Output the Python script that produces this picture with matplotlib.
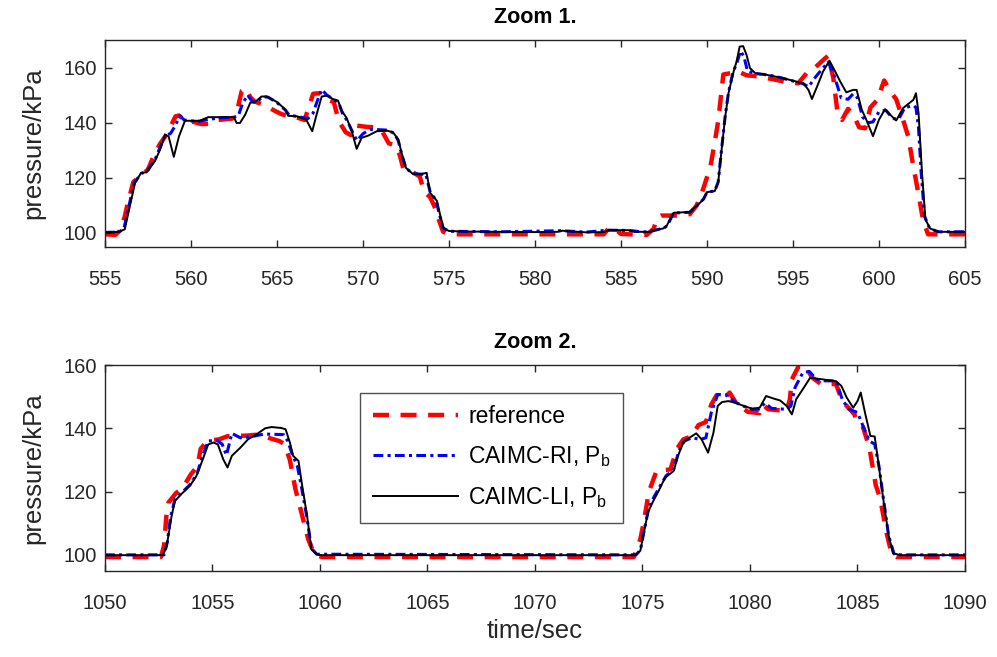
import matplotlib
matplotlib.use("Agg")
import matplotlib.pyplot as plt

plt.rcParams['font.family'] = ['Liberation Sans', 'DejaVu Sans']
plt.rcParams['mathtext.fontset'] = 'custom'
plt.rcParams['mathtext.rm'] = 'Liberation Sans'

# ---- Zoom 1 data (time/sec, pressure/kPa) ----
t_ref_1 = [555, 555.6, 555.9, 556.15, 556.35, 556.65, 557.0, 557.5, 557.9, 558.2, 558.5, 558.8, 559.1, 559.3,
           559.65, 560.2, 560.6, 561.2, 561.6, 562.4, 562.65, 562.95, 563.2, 563.45, 563.7, 564.3, 564.9, 565.3,
           566.1, 566.6, 566.9, 567.1, 567.5, 567.9, 568.3, 568.6, 569.0, 569.3, 569.55, 570.2, 570.8, 571.1,
           571.5, 571.9, 572.15, 572.35, 572.9, 573.3, 573.55, 573.9, 574.2, 574.4, 574.65, 575.0, 584.0, 584.3,
           584.6, 585.0, 586.5, 586.9, 587.1, 587.35, 588.3, 589.0, 589.4, 589.7, 590.2, 590.45, 590.65, 590.8,
           590.95, 591.4, 591.8, 592.3, 593.0, 593.8, 594.6, 595.3, 595.8, 596.2, 596.8, 597.05, 597.35, 597.6,
           597.85, 598.2, 598.5, 598.85, 599.2, 599.5, 599.9, 600.3, 600.7, 601.0, 601.4, 601.7, 602.0, 602.3,
           602.55, 602.85, 605]
p_ref_1 = [99.5, 99.3, 101, 106, 111.5, 118.5, 120.3, 123, 129, 132.3, 135, 138.5, 142.3, 142.6,
           140.8, 140.2, 139.5, 139.6, 141, 141.5, 143.5, 151.5, 152.5, 149.2, 147.7, 146.3, 144.2, 143,
           142, 141, 146.5, 150.5, 150.7, 148.5, 147.5, 140.5, 136.5, 135.5, 139, 138.5, 138.3, 137,
           132.5, 131.8, 128, 123.2, 122, 120.5, 115, 113, 109, 105, 100.5, 99.5, 99.5, 101.8,
           101.8, 99.6, 99.3, 101.5, 105.5, 106.3, 106.3, 106.8, 110, 114.5, 124, 133, 140.5, 149,
           157.5, 158, 158.6, 157.2, 156.8, 155.8, 154.8, 154.3, 158, 159.5, 163, 164.3, 156, 143,
           141, 145, 143, 138.3, 138, 145.5, 148.3, 155.3, 151, 148.5, 141, 135, 124, 114,
           105, 99.5, 99.5]

t_ri_1 = [555, 555.8, 556.1, 556.4, 556.7, 557.1, 557.45, 557.9, 558.2, 558.5, 558.8, 559.05, 559.35, 559.6,
          560.0, 560.5, 561.0, 561.8, 562.5, 562.75, 563.0, 563.3, 563.55, 563.8, 564.2, 564.5, 565.0, 565.5,
          565.7, 566.2, 566.8, 567.1, 567.35, 567.6, 567.9, 568.3, 568.6, 568.8, 569.1, 569.4, 569.65, 570.0,
          570.4, 570.8, 571.4, 571.8, 572.05, 572.25, 572.5, 572.9, 573.4, 573.65, 573.9, 574.25, 574.45, 574.65,
          575.0, 578.0, 581.5, 583.0, 584.2, 585.5, 586.3, 587.0, 587.5, 587.7, 588.05, 589.0, 589.4, 589.8,
          590.0, 590.45, 590.65, 590.85, 591.05, 591.25, 591.5, 591.75, 591.95, 592.15, 592.35, 592.8, 593.3, 593.8,
          594.3, 594.7, 595.2, 595.6, 595.9, 596.3, 596.7, 597.05, 597.4, 597.8, 598.2, 598.5, 598.75, 599.05,
          599.4, 599.65, 600.0, 600.4, 600.8, 601.15, 601.5, 602.0, 602.15, 602.3, 602.45, 602.65, 602.95, 603.45,
          605]
p_ri_1 = [100.2, 100.3, 101.5, 110, 118.2, 121.5, 122.5, 126.5, 131, 135.5, 136, 138.5, 142.5, 141,
          140.6, 140.5, 141.2, 141.8, 142, 142.5, 147, 150, 147.8, 147.5, 149.5, 149.2, 147.3, 144.5,
          142.8, 142.2, 141.5, 143.5, 148, 152, 150, 148.5, 147, 143.5, 140.5, 136.5, 133.5, 136,
          137.5, 137.5, 137.3, 136.2, 133.5, 128.5, 123.5, 121.5, 121.3, 121.3, 115, 111.8, 106.5, 101.8,
          100.6, 100.4, 100.8, 100.3, 101, 100.9, 100.3, 101, 101.8, 102.7, 107.2, 107.5, 109.8, 112.3,
          114.8, 115.2, 118.5, 130.5, 142, 151, 158, 162, 166, 164, 158.8, 157.8, 157.5, 157,
          156.3, 155.6, 154.8, 154.1, 153, 156.5, 159.5, 162, 157, 149, 148.5, 150.5, 149, 142,
          140, 140.3, 144, 144.5, 141.5, 141.3, 145.5, 146.2, 145.5, 138, 122, 106, 101.6, 100.4,
          100.4]

t_li_1 = [555, 555.8, 556.15, 556.45, 556.75, 557.1, 557.4, 557.9, 558.2, 558.5, 558.7, 559.0, 559.3, 559.65,
          560.5, 561.0, 562.5, 562.65, 562.85, 563.15, 563.45, 563.7, 564.1, 564.4, 565.0, 565.5, 565.65, 566.15,
          566.7, 567.05, 567.3, 567.6, 567.9, 568.25, 568.55, 568.75, 569.05, 569.35, 569.63, 569.92, 570.3, 570.8,
          571.4, 571.75, 572.05, 572.25, 572.5, 572.9, 573.4, 573.7, 573.9, 574.3, 574.5, 574.7, 575.0, 576.0,
          578.0, 580.0, 581.3, 581.6, 582.0, 583.0, 584.0, 584.3, 585.4, 585.8, 586.7, 587.15, 587.45, 587.65,
          588.05, 589.0, 589.4, 589.8, 590.0, 590.45, 590.65, 590.85, 591.05, 591.25, 591.55, 591.72, 591.9, 592.1,
          592.3, 592.5, 592.8, 593.3, 593.75, 594.25, 594.65, 595.2, 595.6, 595.9, 596.1, 596.4, 596.75, 597.12,
          597.45, 597.75, 598.1, 598.5, 598.7, 599.0, 599.3, 599.65, 600.0, 600.35, 600.65, 601.0, 601.4, 602.0,
          602.15, 602.3, 602.5, 602.7, 602.97, 603.45, 605]
p_li_1 = [100.1, 100.4, 101.3, 109.8, 118.2, 121.8, 122, 126, 130.2, 135.7, 135, 127.6, 135, 140.7,
          140.7, 142, 142, 139.9, 139.9, 142.9, 147.3, 147.3, 149.5, 149.5, 147.5, 144.7, 142.5, 142.3,
          141.1, 136.9, 142.9, 149.5, 149.8, 148.6, 148, 144.5, 141.7, 136.9, 130.5, 134.5, 135.3, 136.9,
          137.1, 136.5, 133.9, 129, 123.6, 121.4, 121.4, 121.8, 114.6, 111.6, 106.1, 101.6, 100.7, 100.5,
          100.4, 100.3, 100.4, 100.8, 100.6, 100.2, 100.3, 101, 101, 100.4, 100.4, 101.3, 101.6, 102.5,
          107.3, 107.6, 109.8, 112.2, 114.8, 115.2, 118.2, 130.2, 141.7, 150.7, 158.6, 162.2, 167.6, 167.8,
          164.6, 159.8, 158, 157.6, 157, 156.4, 155.8, 154.9, 154.3, 151.9, 148.6, 153.1, 158.6, 162.5,
          158.6, 154.9, 151, 151.9, 151.9, 144.7, 140.5, 135.1, 141.1, 144.9, 142.9, 140.8, 145.3, 148.3,
          150.7, 143.5, 121.8, 104.9, 101.6, 100.4, 100.4]

# ---- Zoom 2 data ----
t_ref_2 = [1050, 1052.6, 1052.75, 1052.85, 1052.95, 1053.3, 1053.6, 1054.0, 1054.3, 1054.45, 1054.75, 1055.3,
           1055.7, 1056.6, 1057.1, 1057.6, 1058.1, 1058.35, 1058.6, 1058.85, 1059.15, 1059.45, 1059.75, 1060.1,
           1074.6, 1074.9, 1075.05, 1075.3, 1075.65, 1076.3, 1076.6, 1076.9, 1077.3, 1077.6, 1077.95, 1078.2,
           1078.45, 1078.75, 1079.05, 1079.35, 1079.9, 1080.45, 1080.6, 1080.85, 1081.7, 1081.85, 1081.95, 1082.25,
           1082.6, 1082.9, 1083.3, 1084.0, 1084.3, 1084.65, 1084.85, 1085.0, 1085.25, 1085.55, 1085.85, 1086.05,
           1086.35, 1086.6, 1086.8, 1090]
p_ref_2 = [99.3, 99.3, 103, 112, 116.5, 119.5, 121, 125.5, 128, 133.5, 136, 136.5,
           137.5, 137.7, 138, 137, 136, 135, 130, 121, 113, 105, 100, 99.3,
           99.3, 105, 110, 120, 126.5, 127, 133.5, 136.5, 137.5, 141, 142, 147.5,
           150.5, 149, 151.3, 148, 145.2, 144.8, 147.5, 146, 145.5, 149, 155.5, 159.5,
           159.2, 156, 154, 154, 148.5, 146, 144.5, 141.5, 140.5, 134, 122, 118,
           107, 100, 99.3, 99.3]

t_ri_2 = [1050, 1052.75, 1052.9, 1053.05, 1053.25, 1053.55, 1054.0, 1054.3, 1054.55, 1054.8, 1055.2, 1055.45,
          1055.65, 1055.9, 1056.3, 1056.7, 1057.4, 1058.3, 1058.5, 1058.7, 1058.95, 1059.15, 1059.4, 1059.6,
          1059.85, 1074.7, 1074.9, 1075.1, 1075.3, 1075.55, 1075.8, 1076.1, 1076.45, 1076.7, 1076.95, 1077.3,
          1077.7, 1077.95, 1078.2, 1078.5, 1078.9, 1079.3, 1079.7, 1080.1, 1080.4, 1080.7, 1081.0, 1081.7,
          1081.9, 1082.1, 1082.45, 1082.75, 1083.1, 1083.5, 1084.0, 1084.3, 1084.6, 1085.0, 1085.3, 1085.55,
          1085.8, 1086.0, 1086.2, 1086.45, 1086.7, 1087.0, 1090]
p_ri_2 = [100, 100, 104, 112, 117.5, 119.5, 122.5, 126, 131.5, 136, 136.2, 135,
          131.5, 138.4, 137, 137.2, 138.2, 138, 136, 132, 128, 121, 111.5, 102,
          100.2, 100, 101.5, 108.5, 115, 118.5, 121.5, 125, 127, 133, 136, 137,
          136.5, 137, 145, 150.7, 150.5, 148.3, 147, 146, 146, 148, 146.3, 146,
          147, 153, 157.5, 158, 155.5, 155, 155, 149, 146, 145, 140, 136,
          135, 128, 118, 106, 100.3, 100, 100]

t_li_2 = [1050, 1052.7, 1052.87, 1053.1, 1053.25, 1053.55, 1053.95, 1054.25, 1054.55, 1054.8, 1055.05, 1055.25,
          1055.5, 1055.7, 1055.9, 1056.3, 1056.65, 1057.05, 1057.45, 1057.75, 1058.2, 1058.4, 1058.6, 1058.75,
          1059.0, 1059.15, 1059.4, 1059.6, 1059.85, 1060.0, 1074.65, 1074.9, 1075.1, 1075.25, 1075.5, 1075.75,
          1076.05, 1076.45, 1076.65, 1076.9, 1077.2, 1077.5, 1077.75, 1078.05, 1078.3, 1078.5, 1078.7, 1079.0,
          1079.3, 1079.7, 1080.1, 1080.45, 1080.75, 1081.1, 1081.4, 1081.7, 1081.95, 1082.15, 1082.5, 1082.8,
          1083.1, 1083.35, 1083.65, 1084.0, 1084.25, 1084.5, 1084.8, 1085.0, 1085.15, 1085.35, 1085.6, 1085.8,
          1085.95, 1086.2, 1086.45, 1086.65, 1087.0, 1090]
p_li_2 = [99.9, 99.9, 102.8, 112.3, 117, 119.2, 121.8, 124.9, 130.2, 134.9, 135.5, 134.9,
          130.2, 127.6, 131.3, 133.9, 136.5, 138.1, 140, 140.4, 140.1, 139.7, 135.5, 131.3,
          129.7, 122.8, 112.3, 101.8, 100.2, 99.9, 99.9, 101.3, 108.1, 113.4, 117, 120.2,
          124.4, 126.5, 131.3, 135.5, 137.1, 138.4, 136.5, 132.3, 138.6, 147.1, 148.3, 148.6,
          148.1, 147.1, 146.2, 146.5, 150.2, 149.4, 148.8, 147.1, 144.4, 149.2, 152.8, 156,
          155.7, 155.5, 155.2, 154.9, 153.4, 149.7, 146.5, 148.6, 151.3, 144.9, 137.6, 137.4,
          130.2, 117.6, 106, 100.5, 99.9, 99.9]

labels = ['reference', 'CAIMC-RI, P$_\\mathrm{b}$', 'CAIMC-LI, P$_\\mathrm{b}$']

fig = plt.figure(figsize=(9.97, 6.57), dpi=100)
ax1 = fig.add_axes([0.1053, 0.6245, 0.8626, 0.3146])
ax2 = fig.add_axes([0.1053, 0.1314, 0.8626, 0.3130])

panels = [
    (ax1, t_ref_1, p_ref_1, t_ri_1, p_ri_1, t_li_1, p_li_1, 'Zoom 1.', (555, 605), (95, 170), range(555, 606, 5)),
    (ax2, t_ref_2, p_ref_2, t_ri_2, p_ri_2, t_li_2, p_li_2, 'Zoom 2.', (1050, 1090), (95, 160), range(1050, 1091, 5)),
]

for ax, tr, pr, tb, pb, tk, pk, title, xl, yl, xt in panels:
    ax.plot(tr, pr, color='#ff0000', lw=3.2, dashes=(3.6, 2.6), label=labels[0])
    ax.plot(tb, pb, color='#0000ff', lw=2.2, dashes=(3.2, 1.4, 1.0, 1.4), label=labels[1])
    ax.plot(tk, pk, color='black', lw=1.4, label=labels[2])
    ax.set_xlim(*xl)
    ax.set_ylim(*yl)
    ax.set_xticks(list(xt))
    ax.set_yticks([100, 120, 140, 160])
    ax.set_title(title, fontsize=15.5, fontweight='bold', color='black', pad=12)
    ax.set_ylabel('pressure/kPa', fontsize=18.5, color='#262626', labelpad=13)
    ax.tick_params(direction='in', length=5, width=1, colors='#262626', labelsize=14.5, top=True, right=True,
                   labeltop=False, labelright=False)
    ax.tick_params(axis='y', pad=6)
    ax.tick_params(axis='x', pad=17)
    for s in ax.spines.values():
        s.set_color('#262626')
        s.set_linewidth(1.0)

ax2.set_xlabel('time/sec', fontsize=18.5, color='#262626', labelpad=4)

leg = ax2.legend(loc='upper left', bbox_to_anchor=(0.297, 0.866), fontsize=16.5, frameon=True,
                 fancybox=False, edgecolor='#262626', handlelength=3.7, borderpad=0.55,
                 labelspacing=0.7, handletextpad=0.45, borderaxespad=0)
leg.get_frame().set_linewidth(1.0)

fig.savefig('out.png', dpi=100)
